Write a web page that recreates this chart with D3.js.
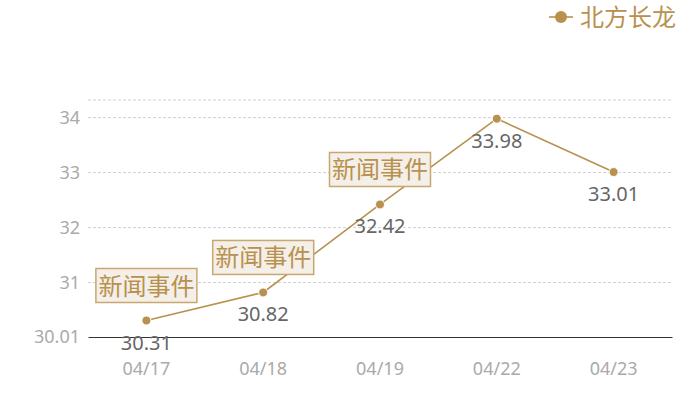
<!DOCTYPE html>
<html><head><meta charset="utf-8">
<script src="https://cdn.jsdelivr.net/npm/d3@7"></script>
<style>body{margin:0;background:#fff}svg{display:block}text{font-family:"Noto Sans","Noto Sans CJK SC",sans-serif}</style>
</head><body><svg id="c" width="700" height="400"></svg>
<script>
const categories = ["04/17","04/18","04/19","04/22","04/23"];
const values = [30.31, 30.82, 32.42, 33.98, 33.01];
const seriesName = "北方长龙";
const eventLabels = ["新闻事件","新闻事件","新闻事件",null,null];
const yTicks = [30.01, 31, 32, 33, 34];
const yMin = 30.01, yMax = 34.32;

const svg = d3.select("#c");
const m = {l:88, r:28, t:100, b:63};
const W = 700, H = 400;
const x = d3.scaleBand().domain(categories).range([m.l, W - m.r]);
const y = d3.scaleLinear().domain([yMin, yMax]).range([H - m.b, m.t]);
const gold = "#b8914f";
const cjk = '"Noto Sans CJK SC","Noto Sans",sans-serif';

// gridlines
const grid = svg.append("g");
grid.selectAll("line").data(yTicks.filter(v => v !== yMin).concat([yMax])).join("line")
  .attr("x1", m.l).attr("x2", W - m.r)
  .attr("y1", d => y(d)).attr("y2", d => y(d))
  .attr("stroke", "#d0d0d0").attr("stroke-dasharray", "3,2").attr("stroke-width", 1);

// y axis
const yAxis = svg.append("g").attr("transform", `translate(${m.l},0)`)
  .call(d3.axisLeft(y).tickValues(yTicks).tickSize(0).tickPadding(8).tickFormat(d => d === yMin ? "30.01" : d3.format("d")(d)));
yAxis.select(".domain").remove();
yAxis.selectAll("text").attr("fill", "#aaa").attr("font-size", 18).attr("font-family", '"Noto Sans",sans-serif');

// x axis
const xAxis = svg.append("g").attr("transform", `translate(0,${H - m.b})`)
  .call(d3.axisBottom(x).tickSize(0).tickPadding(25));
xAxis.select(".domain").attr("stroke", "#333").attr("stroke-width", 1);
xAxis.selectAll("text").attr("fill", "#aaa").attr("font-size", 18).attr("font-family", '"Noto Sans",sans-serif');

const cx = d => x(d) + x.bandwidth() / 2;
const pts = categories.map((c, i) => ({c, v: values[i], ev: eventLabels[i]}));

// line
svg.append("path").datum(pts)
  .attr("d", d3.line().x(d => cx(d.c)).y(d => y(d.v)))
  .attr("fill", "none").attr("stroke", gold).attr("stroke-width", 1.6);

// points
svg.append("g").selectAll("circle").data(pts).join("circle")
  .attr("cx", d => cx(d.c)).attr("cy", d => y(d.v)).attr("r", 4.5)
  .attr("fill", gold).attr("stroke", "#fff").attr("stroke-width", 1);

// value labels
svg.append("g").selectAll("text").data(pts).join("text")
  .attr("x", d => cx(d.c)).attr("y", d => y(d.v) + 29)
  .attr("text-anchor", "middle").attr("fill", "#666").attr("font-size", 20)
  .text(d => d.v.toFixed(2));

// event annotations
const ev = svg.append("g").selectAll("g").data(pts.filter(d => d.ev)).join("g")
  .attr("transform", d => `translate(${cx(d.c)},${y(d.v) - 18})`);
ev.append("rect").attr("x", -50.5).attr("y", -34).attr("width", 101).attr("height", 34)
  .attr("fill", "#f4efe8").attr("stroke", "#c9a771").attr("stroke-width", 1.5);
ev.append("text").attr("x", 0).attr("y", -8).attr("text-anchor", "middle")
  .attr("fill", gold).attr("font-size", 24).attr("font-family", cjk).text(d => d.ev);

// legend
const lg = svg.append("g").attr("transform", "translate(561,17)");
lg.append("line").attr("x1", -12).attr("x2", 12).attr("stroke", gold).attr("stroke-width", 1.6);
lg.append("circle").attr("r", 6).attr("fill", gold);
lg.append("text").attr("x", 19).attr("y", 9).attr("fill", gold).attr("font-size", 24)
  .attr("font-family", cjk).text(seriesName);
</script></body></html>
